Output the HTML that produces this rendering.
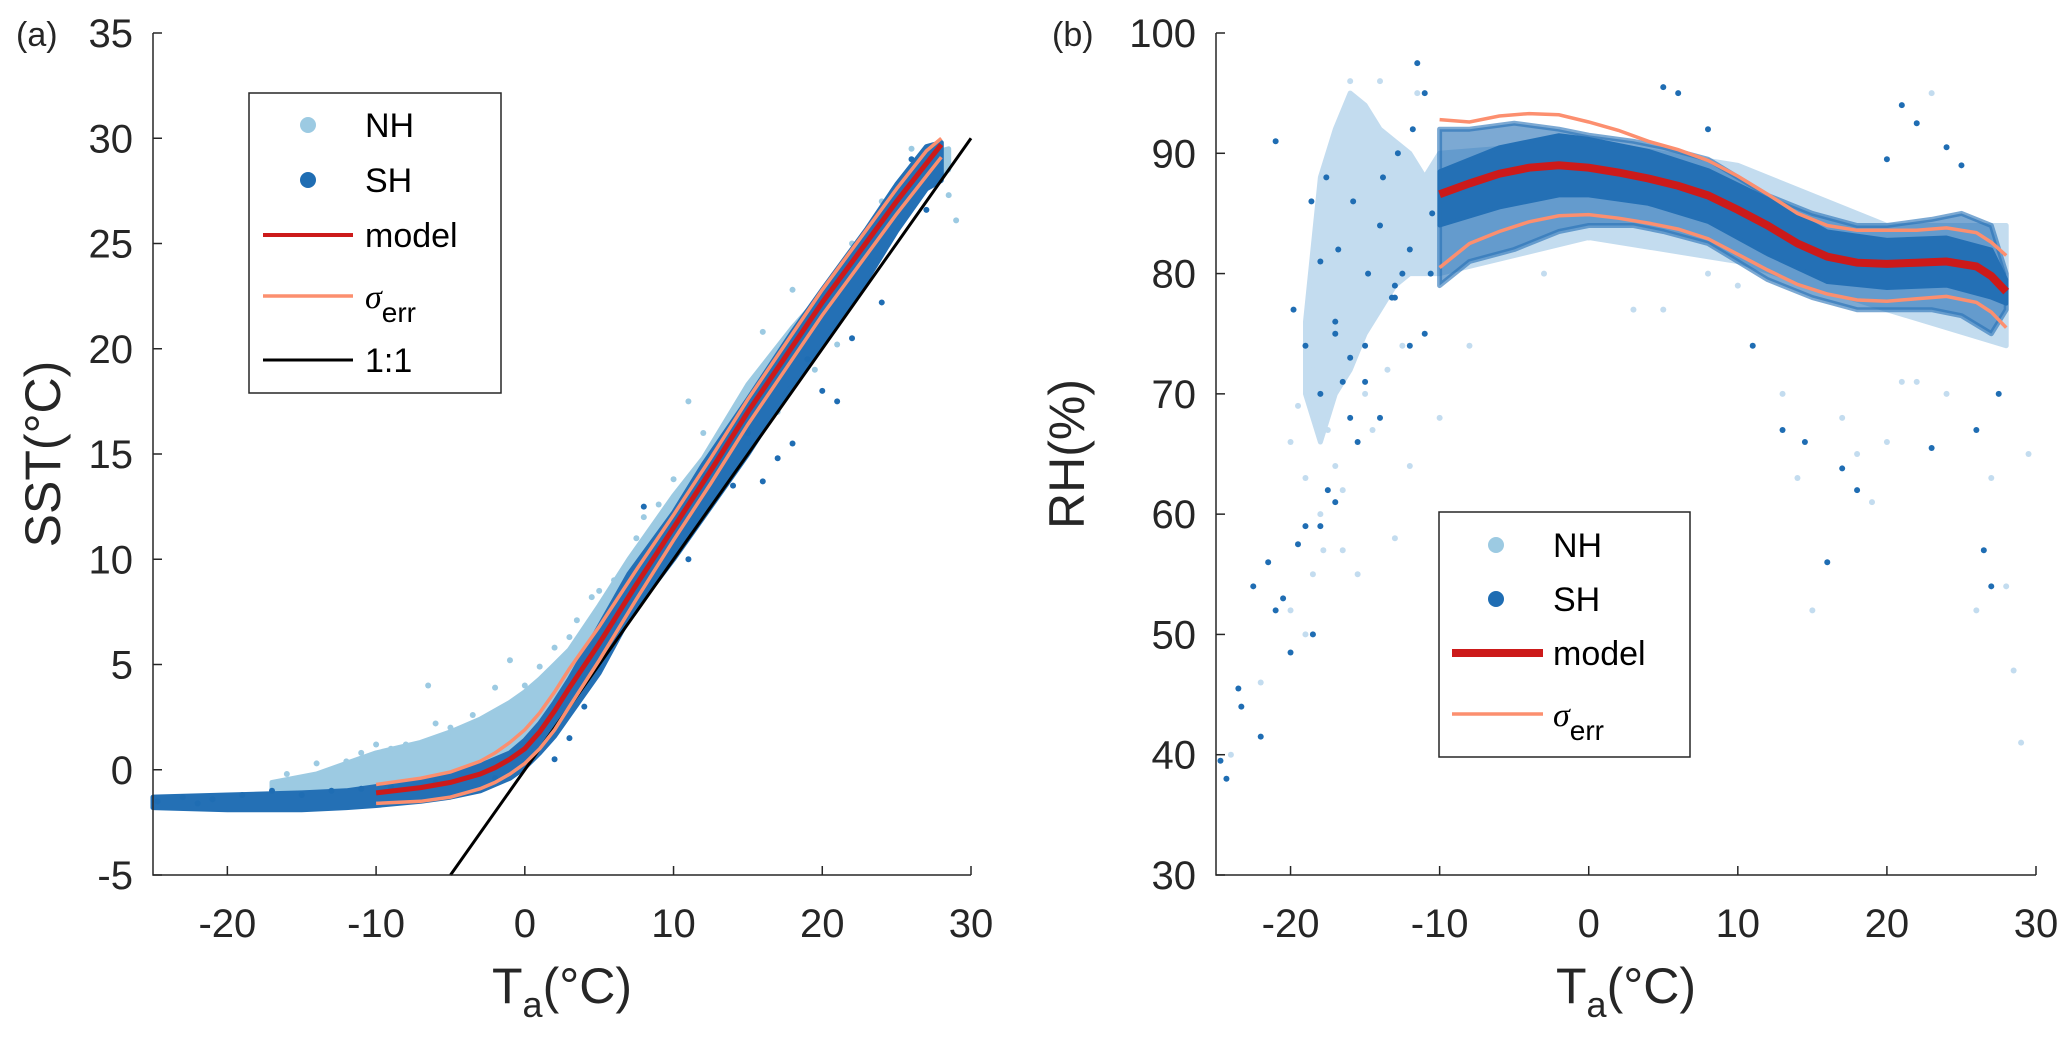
<!DOCTYPE html>
<html><head><meta charset="utf-8">
<style>
html,body{margin:0;padding:0;background:#fff;}
svg{display:block;font-family:"Liberation Sans",sans-serif;}
</style></head>
<body>
<svg id="fig" width="2067" height="1060" viewBox="0 0 2067 1060" xmlns="http://www.w3.org/2000/svg"></svg>
<script>
// ---------- Panel (a) data ----------
const aModelX = [-10,-7,-5,-3,-2,-1,0,1,2,3,5,7.5,10,12.5,15,17.5,20,22.5,25,27,28];
const aModelY = [-1.1,-0.85,-0.6,-0.2,0.1,0.5,1.0,1.8,2.8,3.9,6.0,8.8,11.5,14.2,17.0,19.6,22.2,24.6,27.0,28.8,29.7];
const aSigUp  = [-0.7,-0.4,-0.1,0.4,0.8,1.3,1.9,2.7,3.7,4.8,6.8,9.5,12.1,14.8,17.6,20.2,22.8,25.2,27.6,29.4,30.0];
const aSigLo  = [-1.6,-1.5,-1.3,-0.9,-0.6,-0.2,0.3,1.0,1.9,3.0,5.2,8.1,10.9,13.6,16.4,19.0,21.6,24.0,26.4,28.2,29.1];
const aOneX = [-5,30];
const aOneY = [-5,30];
const aNHx  = [-17,-14,-12,-10,-7,-5,-3,-1,0,1,2,3,5,7,10,12,15,18,20,23,25,27,28.5];
const aNHlo = [-1.7,-1.6,-1.4,-1.3,-1.0,-0.6,-0.2,0.3,0.8,1.5,2.3,3.1,5.0,7.5,10.5,12.8,16.0,19.3,21.0,24.0,26.0,27.8,28.5];
const aNHhi = [-0.6,-0.2,0.3,0.8,1.3,1.8,2.4,3.2,3.7,4.3,5.0,5.7,7.8,10.0,13.0,14.8,18.3,21.0,22.6,25.3,27.3,29.2,29.5];
const aSHx  = [-25,-20,-15,-12,-10,-7,-5,-3,-1,0,1,2,3,5,7,10,12,15,18,20,23,25,27,28];
const aSHlo = [-1.8,-1.9,-1.9,-1.8,-1.7,-1.5,-1.3,-1.0,-0.4,0.1,0.8,1.6,2.6,4.6,7.2,10.0,12.0,15.0,18.3,20.3,23.3,25.6,27.6,28.0];
const aSHhi = [-1.3,-1.2,-1.1,-1.0,-0.8,-0.5,-0.2,0.2,0.8,1.4,2.2,3.2,4.3,6.8,9.3,12.2,14.5,17.6,20.8,22.8,25.7,27.8,29.6,29.8];
const aNHptsX = [-16,-14,-12,-10,-8,-6.5,-5,-3.5,-2,-1,0,1,2,3,3.5,4.5,5,6,7.5,8,9,10,11,12,13,14,16,17,18,19.5,21,22,24,26,27,28.5,29,28,-4,-6,-9,-11];
const aNHptsY = [-0.2,0.3,0.4,1.2,1.2,4.0,2.0,2.6,3.9,5.2,4.0,4.9,5.8,6.3,7.1,8.2,8.5,9.0,11.0,12.0,12.6,13.8,17.5,16.0,14.5,16.5,20.8,17.0,22.8,19.0,20.2,25.0,27.0,29.5,28.0,27.3,26.1,29.0,1.8,2.2,1.0,0.8];
const aSHptsX = [-24.7,-23,-22,-21,-19,-17,-15,-13,-11,-9,-6,-2,2,3,4,5,6,8,9,11,12,14,15,16,17,18,19,20,21,22,24,26,27];
const aSHptsY = [-1.5,-1.3,-1.6,-1.4,-1.2,-1.0,-1.2,-1.0,-0.9,-0.8,-0.6,-0.4,0.5,1.5,3.0,4.8,7.0,12.5,10.5,10.0,14.0,13.5,16.0,13.7,14.8,15.5,19.5,18.0,17.5,20.5,22.2,29.0,26.6];
const aXTicks = [-20,-10,0,10,20,30];
const aYTicks = [-5,0,5,10,15,20,25,30,35];

// ---------- Panel (b) data ----------
const bModelX = [-10,-8,-6,-4,-2,0,2,4,6,8,10,12,14,16,18,20,22,24,26,27,28];
const bModelY = [86.6,87.5,88.3,88.8,89.0,88.8,88.4,87.9,87.3,86.5,85.3,84.0,82.5,81.4,80.9,80.8,80.9,81.0,80.6,79.8,78.5];
const bSigUp  = [92.8,92.6,93.1,93.3,93.2,92.6,91.9,91.0,90.3,89.4,88.1,86.6,85.0,84.0,83.6,83.6,83.6,83.8,83.4,82.6,81.5];
const bSigLo  = [80.5,82.5,83.5,84.3,84.8,84.9,84.6,84.2,83.7,82.9,81.6,80.3,79.1,78.3,77.8,77.7,77.9,78.1,77.6,76.8,75.5];
const bNHx  = [-19,-18,-17,-16,-15,-14,-13,-12,-11,-10,0,10,20,28];
const bNHlo = [70,66,70,72,75,77,79,80,80,80,83,81,77,74];
const bNHhi = [76,88,92,95,94,92,91,90,88,90,91,89,84,84];
const bSHx  = [-10,-8,-5,-2,0,3,5,8,10,12,15,18,20,23,25,27,28];
const bSHlo = [79,81,82,83.5,84,84,83.5,82.5,81,79.5,78,77,77,77,76.5,75,77];
const bSHhi = [92,92,92.5,92,91.5,91,90.5,89.5,88,86.5,85,84,84,84.5,85,84,80];
const bCoreX  = [-10,-6,-2,0,4,8,12,16,20,24,27,28];
const bCoreLo = [84,85.5,86.5,86.5,85.8,84.3,81.6,79.3,78.8,79,78,77.5];
const bCoreHi = [88.5,90.5,91.5,91.2,90.2,88.6,86.2,83.5,82.8,83,82,79.5];
const bNHptsX = [-24,-22,-20,-19,-18.5,-18,-17,-16.5,-16,-15.5,-14,-13,-12,-11.5,-10,-8,-5,-3,0,3,5,8,10,13,14,15,17,18,19,20,21,22,23,24,26,27,28,28.5,29.5,29,-19.5,-18.5,-17.5,-16.5,-15,-14.5,-13.5,-12.5,-20,-19,-17.8];
const bNHptsY = [40,46,52,50,55,60,64,57,96,55,96,58,64,95,68,74,90,80,83,77,77,80,79,70,63,52,68,65,61,66,71,71,95,70,52,63,54,47,65,41,69,72,67,62,70,67,72,74,66,63,57];
const bSHptsX = [-24.7,-24.3,-23.5,-23.3,-22.5,-22,-21.5,-21,-20.5,-20,-19.5,-19,-18.5,-18,-17.5,-17,-16.5,-16,-15.5,-15,-14,-13,-12,-11.5,-11,-10.5,-21,-19,-18,-17,-16,-13,-12.5,11,13,14.5,16,17,18,20,21,22,23,24,25,26,26.5,27,27.5,5,6,8,-19.8,-18.6,-17.6,-16.8,-15.8,-14.8,-14,-13.2,-12,-11,-18,-17,-15,-13.8,-12.8,-11.8,-10.6];
const bSHptsY = [39.5,38,45.5,44,54,41.5,56,52,53,48.5,57.5,59,50,59,62,61,71,68,66,71,68,79,74,97.5,95,85,91,74,81,75,73,78,80,74,67,66,56,63.8,62,89.5,94,92.5,65.5,90.5,89,67,57,54,70,95.5,95,92,77,86,88,82,86,80,84,78,82,75,70,76,74,88,90,92,80];
const bXTicks = [-20,-10,0,10,20,30];
const bYTicks = [30,40,50,60,70,80,90,100];

// ---------- helpers ----------
const svg = document.getElementById('fig');
const NS = 'http://www.w3.org/2000/svg';
function mk(tag, attrs, parent){
  const e = document.createElementNS(NS, tag);
  for (const k in attrs) e.setAttribute(k, attrs[k]);
  (parent||svg).appendChild(e);
  return e;
}
function axes(x0,x1,y0,y1,L,R,T,B){
  return {sx:v=>L+(v-x0)/(x1-x0)*(R-L), sy:v=>B-(v-y0)/(y1-y0)*(B-T), L,R,T,B};
}
function linePath(ax,xs,ys){
  return xs.map((x,i)=>(i?'L':'M')+ax.sx(x).toFixed(1)+','+ax.sy(ys[i]).toFixed(1)).join(' ');
}
function bandPath(ax,xs,lo,hi){
  let d = xs.map((x,i)=>(i?'L':'M')+ax.sx(x).toFixed(1)+','+ax.sy(hi[i]).toFixed(1)).join(' ');
  for(let i=xs.length-1;i>=0;i--) d+=' L'+ax.sx(xs[i]).toFixed(1)+','+ax.sy(lo[i]).toFixed(1);
  return d+' Z';
}

function drawPanel(ax, cfg){
  const g = mk('g',{});
  
  
  const nhc = mk('path',{d:bandPath(ax,cfg.nhx,cfg.nhlo,cfg.nhhi),fill:cfg.nhCol,stroke:cfg.nhCol,'stroke-width':5,'stroke-linejoin':'round'},g);
  
  
  cfg.nhpx.forEach((x,i)=>{
    const c = mk('circle',{cx:ax.sx(x),cy:ax.sy(cfg.nhpy[i]),r:3,fill:cfg.nhCol},g);
    
    
  });
  const shc = mk('path',{d:bandPath(ax,cfg.shx,cfg.shlo,cfg.shhi),fill:'#2470b5','fill-opacity':cfg.shOp,stroke:'#2470b5','stroke-opacity':cfg.shOp,'stroke-width':5,'stroke-linejoin':'round'},g);
  
  
  if(cfg.corex){
    const cc = mk('path',{d:bandPath(ax,cfg.corex,cfg.corelo,cfg.corehi),fill:'#2470b5',stroke:'#2470b5','stroke-width':4,'stroke-linejoin':'round'},g);
    
    
  }
  cfg.shpx.forEach((x,i)=>{
    const c = mk('circle',{cx:ax.sx(x),cy:ax.sy(cfg.shpy[i]),r:3,fill:'#1f6db3'},g);
    
    
  });
  if(cfg.onex){
    const l = mk('path',{d:linePath(ax,cfg.onex,cfg.oney),fill:'none',stroke:'#000','stroke-width':3},g);
    
    
  }
  [cfg.sup,cfg.slo].forEach(arr=>{
    const l = mk('path',{d:linePath(ax,cfg.mx,arr),fill:'none',stroke:'#fc8f6f','stroke-width':3.5},g);
    
    
  });
  const m = mk('path',{d:linePath(ax,cfg.mx,cfg.my),fill:'none',stroke:'#cc1a1a','stroke-width':cfg.mw},g);
  
  
  const axl = mk('path',{d:`M${ax.L},${ax.T} L${ax.L},${ax.B} L${ax.R},${ax.B}`,fill:'none',stroke:'#262626','stroke-width':1.5},g);
  
  
  cfg.xt.forEach(v=>{
    const x = ax.sx(v);
    mk('line',{x1:x,x2:x,y1:ax.B,y2:ax.B-9,stroke:'#262626','stroke-width':1.5},g);
    const t = mk('text',{x:x,y:937,'font-size':40,'text-anchor':'middle',fill:'#262626'},g);
    t.textContent = v;
    
    
  });
  cfg.yt.forEach(v=>{
    const y = ax.sy(v);
    mk('line',{x1:ax.L,x2:ax.L+9,y1:y,y2:y,stroke:'#262626','stroke-width':1.5},g);
    const t = mk('text',{x:ax.L-20,y:y+14,'font-size':40,'text-anchor':'end',fill:'#262626'},g);
    t.textContent = v;
    
    
  });
  const xt = mk('text',{x:(ax.L+ax.R)/2,y:1003,'font-size':50,'text-anchor':'middle',fill:'#262626'},g);
  xt.innerHTML = 'T<tspan font-size="36" dy="14">a</tspan><tspan dy="-14">(°C)</tspan>';
  
  
  const yt = mk('text',{x:0,y:0,'font-size':50,'text-anchor':'middle',fill:'#262626',transform:`translate(${cfg.ytx},454) rotate(-90)`},g);
  yt.textContent = cfg.ylabel;
  
  
  const pl = mk('text',{x:cfg.plx,y:46,'font-size':34,fill:'#262626'},g);
  pl.textContent = cfg.panel;
  
  
}

function legend(x,y,w,h,rows,nhCol,mw,lineX0,lineX1,markX,textX){
  const g = mk('g',{});
  
  
  mk('rect',{x,y,width:w,height:h,fill:'#fff',stroke:'#262626','stroke-width':1.5},g);
  rows.forEach(r=>{
    const eg = mk('g',{},g);
    
    
    if(r.k==='nh') mk('circle',{cx:markX,cy:r.y,r:8,fill:nhCol},eg);
    if(r.k==='sh') mk('circle',{cx:markX,cy:r.y,r:8,fill:'#1f6db3'},eg);
    if(r.k==='model') mk('line',{x1:lineX0,x2:lineX1,y1:r.y,y2:r.y,stroke:'#cc1a1a','stroke-width':mw},eg);
    if(r.k==='sigma') mk('line',{x1:lineX0,x2:lineX1,y1:r.y,y2:r.y,stroke:'#fc8f6f','stroke-width':3.5},eg);
    if(r.k==='one') mk('line',{x1:lineX0,x2:lineX1,y1:r.y,y2:r.y,stroke:'#000','stroke-width':3},eg);
    const t = mk('text',{x:textX,y:r.y+12,'font-size':34,fill:'#000'},eg);
    if(r.k==='sigma') t.innerHTML = '<tspan font-family="Liberation Serif" font-style="italic">σ</tspan><tspan font-size="28" dy="14">err</tspan>';
    else t.textContent = r.t;
  });
}

const axA = axes(-25,30,-5,35,153,971,33,875);
drawPanel(axA,{name:'panel-a',nhCol:'#9ccae2',nhx:aNHx,nhlo:aNHlo,nhhi:aNHhi,shx:aSHx,shlo:aSHlo,shhi:aSHhi,shOp:1,
  nhpx:aNHptsX,nhpy:aNHptsY,shpx:aSHptsX,shpy:aSHptsY,onex:aOneX,oney:aOneY,
  mx:aModelX,my:aModelY,sup:aSigUp,slo:aSigLo,mw:5,xt:aXTicks,yt:aYTicks,ylabel:'SST(°C)',ytx:60,plx:16,panel:'(a)'});
const axB = axes(-25,30,30,100,1216,2036,33,875);
drawPanel(axB,{name:'panel-b',nhCol:'#c3dcef',nhx:bNHx,nhlo:bNHlo,nhhi:bNHhi,shx:bSHx,shlo:bSHlo,shhi:bSHhi,shOp:0.6,
  corex:bCoreX,corelo:bCoreLo,corehi:bCoreHi,
  nhpx:bNHptsX,nhpy:bNHptsY,shpx:bSHptsX,shpy:bSHptsY,onex:null,
  mx:bModelX,my:bModelY,sup:bSigUp,slo:bSigLo,mw:8,xt:bXTicks,yt:bYTicks,ylabel:'RH(%)',ytx:1084,plx:1052,panel:'(b)'});

legend(249,93,252,300,[{k:'nh',t:'NH',y:125},{k:'sh',t:'SH',y:180},{k:'model',t:'model',y:235},{k:'sigma',t:'',y:296},{k:'one',t:'1:1',y:360}],'#9ccae2',4,263,353,308,365);
legend(1439,512,251,245,[{k:'nh',t:'NH',y:545},{k:'sh',t:'SH',y:599},{k:'model',t:'model',y:653},{k:'sigma',t:'',y:714}],'#9ccae2',8,1452,1543,1496,1553);
</script>
</body></html>
